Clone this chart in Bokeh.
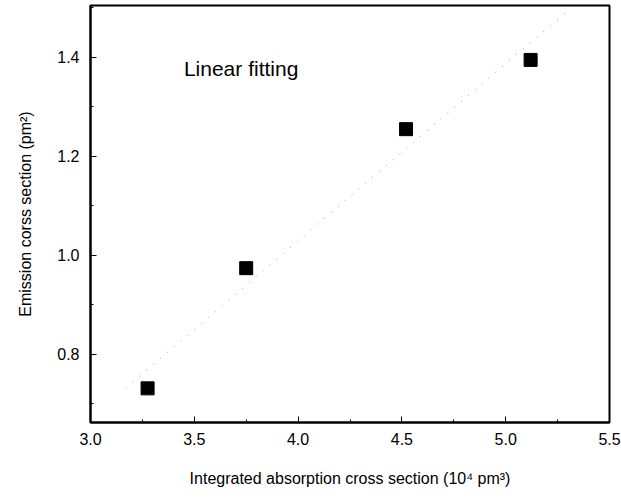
from bokeh.plotting import figure
from bokeh.models import Range1d, FixedTicker, Label, NumeralTickFormatter
from bokeh.embed import file_html
from bokeh.resources import INLINE

# data
absorption = [3.275, 3.75, 4.52, 5.12]
emission = [0.731, 0.974, 1.255, 1.395]
fit_x = [3.17, 5.30]
fit_y = [0.732, 1.495]
x_ticks = [3.0, 3.5, 4.0, 4.5, 5.0, 5.5]
x_minor = [3.25, 3.75, 4.25, 4.75, 5.25]
y_ticks = [0.8, 1.0, 1.2, 1.4]
y_minor = [0.7, 0.9, 1.1, 1.3, 1.5]

FONT = "Liberation Sans"

p = figure(width=621, height=498, output_backend="svg", toolbar_location=None,
           x_range=Range1d(3.0, 5.5), y_range=Range1d(0.662, 1.505),
           min_border_left=90, min_border_right=12, min_border_top=5, min_border_bottom=76)
p.background_fill_color = "white"
p.border_fill_color = "white"
p.xgrid.visible = False
p.ygrid.visible = False
p.outline_line_color = "black"
p.outline_line_width = 2

p.line(fit_x, fit_y, line_color="#9a9a9a", line_width=1, line_dash="1 8")
p.scatter(absorption, emission, marker="square", size=13, color="black")

p.xaxis.ticker = FixedTicker(ticks=x_ticks, minor_ticks=x_minor)
p.yaxis.ticker = FixedTicker(ticks=y_ticks, minor_ticks=y_minor)
p.xaxis.formatter = NumeralTickFormatter(format="0.0")
p.yaxis.formatter = NumeralTickFormatter(format="0.0")

for ax in (p.xaxis[0], p.yaxis[0]):
    ax.axis_line_width = 2
    ax.axis_line_color = "black"
    ax.major_tick_in = 6
    ax.major_tick_out = 0
    ax.minor_tick_in = 3
    ax.minor_tick_out = 0
    ax.major_tick_line_color = "black"
    ax.minor_tick_line_color = "black"
    ax.major_label_text_font = FONT
    ax.major_label_text_font_size = "16px"
    ax.major_label_text_color = "black"
    ax.axis_label_text_font = FONT
    ax.axis_label_text_font_size = "16px"
    ax.axis_label_text_font_style = "normal"
    ax.axis_label_text_color = "black"

p.xaxis.axis_label = "Integrated absorption cross section (10\u2074 pm\u00b3)"
p.yaxis.axis_label = "Emission corss section (pm\u00b2)"
p.xaxis.major_label_standoff = 10
p.yaxis.major_label_standoff = 11
p.xaxis.axis_label_standoff = 22
p.yaxis.axis_label_standoff = 20

p.add_layout(Label(x=3.45, y=1.378, text="Linear fitting", text_font=FONT,
                   text_font_size="21px", text_color="black",
                   text_baseline="middle", text_align="left"))

open("out.html", "w").write(file_html(p, INLINE))
